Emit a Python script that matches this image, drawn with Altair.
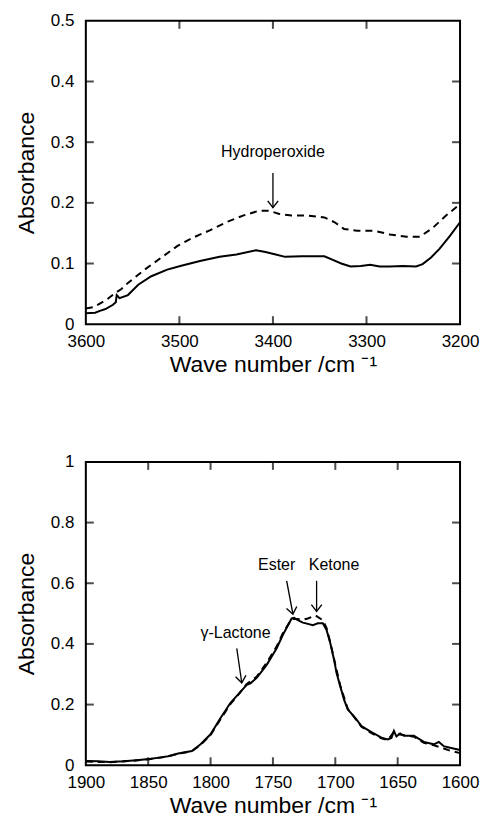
import math
import altair as alt
import pandas as pd

FONT = "Liberation Sans"

# ---------------- Top panel (O-H region) ----------------
top_solid_wn = [3600, 3590, 3585, 3579, 3571, 3568, 3567, 3564, 3555, 3544, 3530, 3513, 3499, 3478,
                3457, 3439, 3418, 3408, 3397, 3387, 3369, 3345, 3336, 3327, 3317, 3306, 3296, 3286,
                3275, 3261, 3247, 3240, 3231, 3222, 3211, 3200]
top_solid_abs = [0.018, 0.019, 0.022, 0.025, 0.032, 0.036, 0.048, 0.043, 0.048, 0.065, 0.079, 0.090,
                 0.096, 0.104, 0.111, 0.115, 0.122, 0.119, 0.115, 0.111, 0.112, 0.112, 0.106, 0.100,
                 0.095, 0.096, 0.098, 0.095, 0.095, 0.096, 0.095, 0.099, 0.110, 0.124, 0.145, 0.168]

top_dash_wn = [3600, 3592, 3586, 3578, 3569, 3562, 3555, 3537, 3520, 3502, 3485, 3467, 3450, 3432,
               3415, 3404, 3394, 3380, 3362, 3345, 3334, 3324, 3310, 3292, 3275, 3257, 3243, 3229,
               3215, 3200]
top_dash_abs = [0.026, 0.028, 0.033, 0.040, 0.051, 0.058, 0.068, 0.090, 0.109, 0.129, 0.143, 0.155,
                0.168, 0.179, 0.187, 0.187, 0.182, 0.179, 0.179, 0.176, 0.168, 0.157, 0.154, 0.154,
                0.148, 0.144, 0.144, 0.159, 0.179, 0.198]

# ---------------- Bottom panel (C=O region) ----------------
bot_solid_wn = [1900, 1890, 1881, 1870, 1862, 1849, 1840, 1834, 1826, 1815, 1808, 1800, 1792, 1784,
                1777, 1771, 1768, 1763, 1755, 1747, 1742, 1735, 1733, 1730, 1726, 1722, 1718, 1714,
                1710, 1707, 1704, 1701, 1699, 1696, 1693, 1690, 1684, 1679, 1671, 1663, 1658, 1655,
                1653, 1651, 1648, 1645, 1637, 1629, 1621, 1617, 1613, 1608, 1600]
bot_solid_abs = [0.014, 0.013, 0.011, 0.013, 0.016, 0.021, 0.026, 0.030, 0.039, 0.047, 0.069, 0.102,
                 0.156, 0.206, 0.238, 0.265, 0.270, 0.288, 0.331, 0.386, 0.430, 0.484, 0.486, 0.478,
                 0.470, 0.466, 0.462, 0.468, 0.468, 0.446, 0.402, 0.348, 0.304, 0.260, 0.216, 0.184,
                 0.156, 0.129, 0.109, 0.091, 0.085, 0.090, 0.113, 0.095, 0.105, 0.097, 0.097, 0.077,
                 0.069, 0.077, 0.063, 0.058, 0.050]

bot_dash_wn = [1900, 1881, 1862, 1849, 1834, 1826, 1815, 1808, 1800, 1792, 1784, 1777, 1771, 1763,
               1755, 1747, 1742, 1735, 1730, 1726, 1722, 1716, 1710, 1707, 1704, 1701, 1696, 1690,
               1684, 1679, 1671, 1663, 1658, 1653, 1648, 1637, 1629, 1621, 1613, 1608, 1600]
bot_dash_abs = [0.012, 0.010, 0.015, 0.020, 0.029, 0.038, 0.046, 0.067, 0.100, 0.152, 0.202, 0.236,
                0.268, 0.292, 0.338, 0.392, 0.436, 0.482, 0.482, 0.480, 0.484, 0.494, 0.478, 0.452,
                0.405, 0.350, 0.262, 0.186, 0.154, 0.127, 0.106, 0.089, 0.083, 0.110, 0.101, 0.094,
                0.074, 0.066, 0.055, 0.048, 0.040]

# Annotations: label text, label position, arrow start, arrow tip
top_labels = ["Hydroperoxide"]
top_label_wn = [3400]
top_label_abs = [0.271]
top_arrow_from_wn = [3400]
top_arrow_from_abs = [0.249]
top_arrow_to_wn = [3400]
top_arrow_to_abs = [0.192]

bot_labels = ["γ-Lactone", "Ester", "Ketone"]
bot_label_wn = [1780, 1747, 1701]
bot_label_abs = [0.41, 0.635, 0.635]
bot_arrow_from_wn = [1779, 1739, 1715]
bot_arrow_from_abs = [0.385, 0.608, 0.608]
bot_arrow_to_wn = [1775, 1734, 1715]
bot_arrow_to_abs = [0.272, 0.498, 0.507]

W, H = 375, 304
TICK = 8


def panel(solid_wn, solid_abs, dash_wn, dash_abs, xdom, ydom, xvals, yvals,
          labels, lab_wn, lab_abs, fr_wn, fr_abs, to_wn, to_abs):
    xs = alt.Scale(domain=xdom, reverse=True, nice=False, zero=False)
    ys = alt.Scale(domain=ydom, nice=False, zero=False)
    xax = alt.Axis(values=xvals, ticks=False, domain=False, grid=False, format="d",
                   labelFontSize=17, labelFont=FONT, labelColor="black", labelPadding=9,
                   labelFlush=False, title="Wave number /cm ⁻¹", titleFont=FONT,
                   titleFontSize=23, titleFontWeight="normal", titleColor="black",
                   titleBaseline="alphabetic", titleY=47)
    yax = alt.Axis(values=yvals, ticks=False, domain=False, grid=False, format=".1~f",
                   labelFontSize=17, labelFont=FONT, labelColor="black", labelPadding=12,
                   labelFlush=False, title="Absorbance", titleFont=FONT, titleFontSize=23,
                   titleFontWeight="normal", titleColor="black", titlePadding=12)
    X = lambda f: alt.X(f, type="quantitative", scale=xs, axis=xax)
    Y = lambda f: alt.Y(f, type="quantitative", scale=ys, axis=yax)

    sdf = pd.DataFrame({"wn": solid_wn, "a": solid_abs})
    ddf = pd.DataFrame({"wn": dash_wn, "a": dash_abs})
    solid = alt.Chart(sdf).mark_line(color="black", strokeWidth=2).encode(x=X("wn"), y=Y("a"))
    dash = alt.Chart(ddf).mark_line(color="black", strokeWidth=2, strokeDash=[7, 5]).encode(
        x=X("wn"), y=Y("a"))

    inner_x = [v for v in xvals if min(xdom) < v < max(xdom)]
    inner_y = [v for v in yvals if min(ydom) < v < max(ydom)]
    txdf = pd.DataFrame({"wn": inner_x})
    tydf = pd.DataFrame({"a": inner_y})
    tick_bot = alt.Chart(txdf).mark_tick(color="black", size=TICK, thickness=2, orient="vertical").encode(
        x=X("wn"), y=alt.value(H - TICK / 2))
    tick_top = alt.Chart(txdf).mark_tick(color="black", size=TICK, thickness=2, orient="vertical").encode(
        x=X("wn"), y=alt.value(TICK / 2))
    tick_left = alt.Chart(tydf).mark_tick(color="black", size=TICK, thickness=2, orient="horizontal").encode(
        y=Y("a"), x=alt.value(TICK / 2))
    tick_right = alt.Chart(tydf).mark_tick(color="black", size=TICK, thickness=2, orient="horizontal").encode(
        y=Y("a"), x=alt.value(W - TICK / 2))

    # arrow geometry
    xspan = abs(xdom[1] - xdom[0])
    yspan = abs(ydom[1] - ydom[0])
    angles = []
    for fw, fa, tw, ta in zip(fr_wn, fr_abs, to_wn, to_abs):
        dx = (fw - tw) / xspan * W  # pixels to the right (reversed axis)
        dy = (fa - ta) / yspan * H  # pixels downward
        ang = math.degrees(math.atan2(dx, dy))
        angles.append((360 - ang) % 360)
    adf = pd.DataFrame({"fw": fr_wn, "fa": fr_abs, "tw": to_wn, "ta": to_abs, "ang": angles})
    shaft = alt.Chart(adf).mark_rule(color="black", strokeWidth=1.3).encode(
        x=X("fw"), y=Y("fa"), x2="tw", y2="ta")
    head = alt.Chart(adf).mark_point(shape="M-1,-1.3L0,0L1,-1.3", filled=False, color="black",
                                     strokeWidth=1.4, size=110, opacity=1).encode(
        x=X("tw"), y=Y("ta"), angle=alt.Angle("ang:Q", scale=None))
    ldf = pd.DataFrame({"wn": lab_wn, "a": lab_abs, "t": labels})
    text = alt.Chart(ldf).mark_text(font=FONT, fontSize=16, color="black", baseline="bottom").encode(
        x=X("wn"), y=Y("a"), text="t:N")

    return alt.layer(solid, dash, tick_bot, tick_top, tick_left, tick_right, shaft, head, text).properties(
        width=W, height=H)


top = panel(top_solid_wn, top_solid_abs, top_dash_wn, top_dash_abs, [3200, 3600], [0, 0.5],
            [3600, 3500, 3400, 3300, 3200], [0, 0.1, 0.2, 0.3, 0.4, 0.5],
            top_labels, top_label_wn, top_label_abs, top_arrow_from_wn, top_arrow_from_abs,
            top_arrow_to_wn, top_arrow_to_abs)
bottom = panel(bot_solid_wn, bot_solid_abs, bot_dash_wn, bot_dash_abs, [1600, 1900], [0, 1],
               [1900, 1850, 1800, 1750, 1700, 1650, 1600], [0, 0.2, 0.4, 0.6, 0.8, 1],
               bot_labels, bot_label_wn, bot_label_abs, bot_arrow_from_wn, bot_arrow_from_abs,
               bot_arrow_to_wn, bot_arrow_to_abs)

chart = alt.vconcat(top, bottom, spacing=75).properties(
    padding={"left": 6, "top": 2, "right": 0, "bottom": 0}
).configure(background="white").configure_view(stroke="black", strokeWidth=2)

chart.save("out.html", embed_options={"renderer": "svg", "actions": False})
